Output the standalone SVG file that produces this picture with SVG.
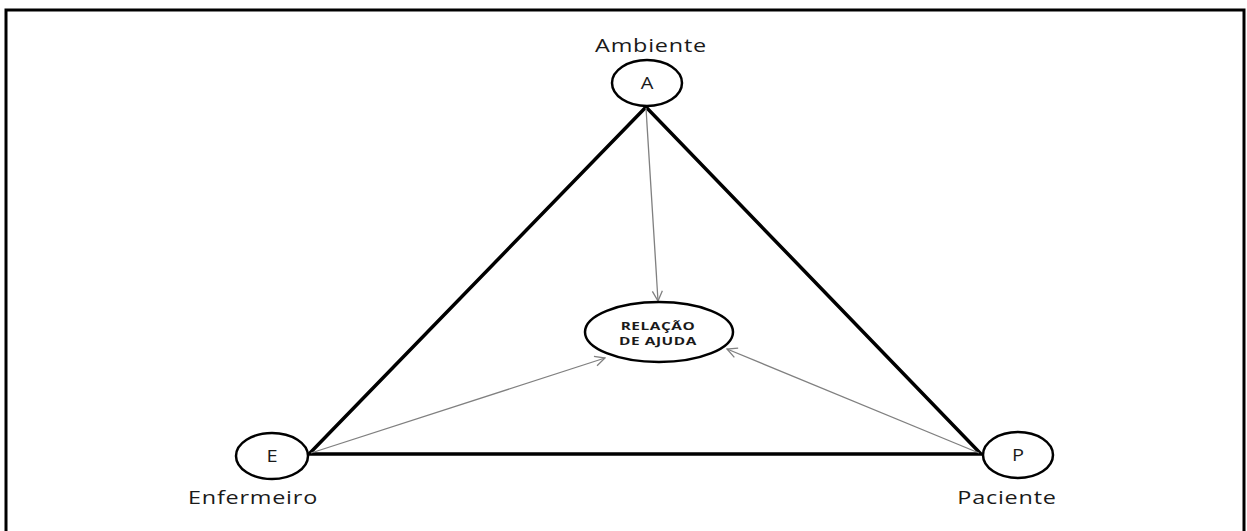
<svg xmlns="http://www.w3.org/2000/svg" width="1247" height="531" viewBox="0 0 1247 531">
  <style>
    .frame { fill: none; stroke: #000; stroke-width: 3; }
    .node { fill: #fff; stroke: #000; stroke-width: 2.5; }
    .edge { fill: none; stroke: #000; stroke-width: 3.5; stroke-linejoin: miter; }
    .flow { fill: none; stroke: #808080; stroke-width: 1.3; }
    text { font-family: "Open Sans", "Liberation Sans", sans-serif; fill: #1a1a1a; text-anchor: middle; }
    .lbl { font-size: 18px; letter-spacing: 0.6px; }
    .ini { font-size: 16px; }
    .core { font-size: 11px; font-weight: bold; letter-spacing: 0.4px; }
  </style>
  <defs>
    <marker id="open-arrow" viewBox="0 0 12 12" refX="11" refY="6" markerWidth="12" markerHeight="12" markerUnits="userSpaceOnUse" orient="auto">
      <path d="M1,1 L11,6 L1,11" fill="none" stroke="#808080" stroke-width="1.3"/>
    </marker>
  </defs>
  <rect width="1247" height="531" fill="#fff"/>
  <path class="frame" d="M6,540 V10 H1244 V540"/>

  <g id="connectors">
    <path class="edge" d="M646,107 L309,454 L981,454 Z"/>
    <line class="flow" x1="646" y1="108" x2="658" y2="301" marker-end="url(#open-arrow)"/>
    <line class="flow" x1="311" y1="453" x2="605" y2="358" marker-end="url(#open-arrow)"/>
    <line class="flow" x1="979" y1="453" x2="727" y2="349" marker-end="url(#open-arrow)"/>
  </g>

  <g id="node-ambiente">
    <ellipse class="node" cx="647" cy="83" rx="35" ry="23"/>
    <text class="ini" transform="translate(647,89) scale(1.25,1)">A</text>
    <text class="lbl" transform="translate(651,52) scale(1.3,1)">Ambiente</text>
  </g>

  <g id="node-enfermeiro">
    <ellipse class="node" cx="272" cy="456" rx="36" ry="23"/>
    <text class="ini" transform="translate(272,462) scale(1.25,1)">E</text>
    <text class="lbl" transform="translate(253,504) scale(1.3,1)">Enfermeiro</text>
  </g>

  <g id="node-paciente">
    <ellipse class="node" cx="1018" cy="455" rx="35" ry="23"/>
    <text class="ini" transform="translate(1018,461) scale(1.25,1)">P</text>
    <text class="lbl" transform="translate(1007,504) scale(1.3,1)">Paciente</text>
  </g>

  <g id="node-relacao">
    <ellipse class="node" cx="659" cy="332" rx="74" ry="30"/>
    <text class="core" transform="translate(658,330) scale(1.4,1)">RELAÇÃO</text>
    <text class="core" transform="translate(658,345) scale(1.4,1)">DE AJUDA</text>
  </g>
</svg>
